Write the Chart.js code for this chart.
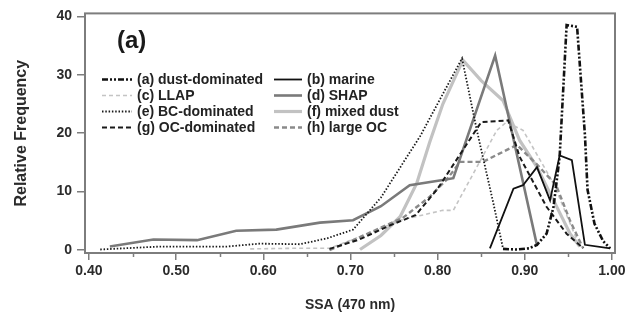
<!DOCTYPE html>
<html>
<head>
<meta charset="utf-8">
<script src="https://cdn.jsdelivr.net/npm/chart.js@4/dist/chart.umd.min.js"></script>
<style>
  html, body { margin: 0; padding: 0; background: #fff; }
  canvas { display: block; }
</style>
</head>
<body>
<canvas id="c" width="631" height="323"></canvas>
<script>
// ---- data (SSA at 470 nm vs relative frequency) ----
const dustSSA   = [0.875, 0.890, 0.905, 0.914, 0.925, 0.933, 0.940, 0.945, 0.948, 0.960, 0.964, 0.969, 0.972, 0.980, 0.990, 0.998];
const dustFreq  = [0.2, 0.1, 0.3, 0.9, 2.8, 7.4, 16, 30, 38.5, 38.2, 30, 19.7, 10.3, 4.5, 1.5, 0.3];

const marineSSA  = [0.860, 0.887, 0.898, 0.914, 0.929, 0.940, 0.954, 0.969, 0.998];
const marineFreq = [0.3, 10.5, 11.1, 14.2, 8.5, 16.2, 15.4, 0.9, 0.3];

const llapSSA  = [0.585, 0.630, 0.676, 0.720, 0.757, 0.806, 0.818, 0.845, 0.868, 0.879, 0.898, 0.933, 0.963];
const llapFreq = [0.2, 0.3, 0.3, 2.8, 5.1, 6.8, 6.8, 14.2, 20.5, 21.9, 20.5, 11.4, 0.6];

const shapSSA  = [0.424, 0.474, 0.524, 0.569, 0.615, 0.665, 0.703, 0.735, 0.768, 0.806, 0.818, 0.866, 0.890, 0.914];
const shapFreq = [0.6, 1.8, 1.7, 3.3, 3.5, 4.7, 5.1, 7.5, 11.1, 12, 12.3, 33.3, 17, 0.8];

const bcSSA  = [0.413, 0.481, 0.558, 0.596, 0.642, 0.673, 0.703, 0.735, 0.780, 0.828, 0.845, 0.864, 0.875];
const bcFreq = [0.1, 0.6, 0.6, 1.1, 1.0, 2.0, 3.5, 9.0, 19.5, 32.8, 20.5, 8.0, 0.3];

const mixedSSA  = [0.711, 0.735, 0.757, 0.776, 0.791, 0.806, 0.829, 0.850, 0.875, 0.894, 0.914, 0.933, 0.952, 0.963];
const mixedFreq = [0.1, 2.5, 5.7, 11.4, 18.5, 25, 32.5, 29, 25.6, 18.8, 14.2, 8.5, 2.8, 0.6];

const ocSSA  = [0.676, 0.710, 0.745, 0.775, 0.800, 0.850, 0.881, 0.894, 0.925, 0.948, 0.967];
const ocFreq = [0.2, 1.8, 4.2, 6.0, 10.5, 21.9, 22.2, 16, 7.4, 2.8, 0.3];

const largeSSA  = [0.676, 0.700, 0.730, 0.760, 0.790, 0.810, 0.826, 0.852, 0.891, 0.915, 0.936, 0.952, 0.967];
const largeFreq = [0.0, 1.5, 3.5, 5.5, 9.0, 12, 15.1, 15.1, 18, 14.5, 11.1, 5.0, 0.3];

const seriesLabels = ['(a) dust-dominated', '(b) marine', '(c) LLAP', '(d) SHAP',
                      '(e) BC-dominated', '(f) mixed dust', '(g) OC-dominated', '(h) large OC'];
const xTickValues = [0.40, 0.50, 0.60, 0.70, 0.80, 0.90, 1.00];
const xMinorTicks = [0.45, 0.55, 0.65, 0.75, 0.85, 0.95];
const yTickValues = [0, 10, 20, 30, 40];
const panelLabel = '(a)';

function pts(xs, ys) { return xs.map((x, i) => ({ x: x, y: ys[i] })); }

const styles = [
  { color: '#111111', width: 2.6, dash: [6, 2, 2, 2, 2, 2] },
  { color: '#111111', width: 1.8, dash: [] },
  { color: '#c4c4c4', width: 1.6, dash: [4, 3] },
  { color: '#7a7a7a', width: 2.6, dash: [] },
  { color: '#1a1a1a', width: 1.8, dash: [1.5, 1.8] },
  { color: '#c2c2c2', width: 3.2, dash: [] },
  { color: '#1a1a1a', width: 2.0, dash: [5, 3] },
  { color: '#8a8a8a', width: 2.4, dash: [5, 3] }
];
const seriesData = [
  pts(dustSSA, dustFreq), pts(marineSSA, marineFreq), pts(llapSSA, llapFreq), pts(shapSSA, shapFreq),
  pts(bcSSA, bcFreq), pts(mixedSSA, mixedFreq), pts(ocSSA, ocFreq), pts(largeSSA, largeFreq)
];
// draw order: light lines underneath
const drawOrder = [5, 2, 7, 3, 6, 4, 1, 0];

const datasets = seriesData.map((d, i) => ({
  label: seriesLabels[i],
  data: d,
  showLine: true,
  borderColor: styles[i].color,
  backgroundColor: styles[i].color,
  borderWidth: styles[i].width,
  borderDash: styles[i].dash,
  pointRadius: 0,
  tension: 0,
  fill: false,
  order: drawOrder.length - drawOrder.indexOf(i)
}));

const TXT = '#2b2b2b';
const FRAME = '#7d7d7d';

const framePlugin = {
  id: 'frame',
  afterDraw(chart) {
    const ctx = chart.ctx, a = chart.chartArea, xs = chart.scales.x;
    ctx.save();
    ctx.strokeStyle = FRAME;
    ctx.lineWidth = 2;
    ctx.strokeRect(a.left, a.top, a.right - a.left, a.bottom - a.top);
    // minor ticks on x axis
    ctx.lineWidth = 1.5;
    xMinorTicks.forEach(v => {
      const px = Math.round(xs.getPixelForValue(v)) + 0.5;
      ctx.beginPath();
      ctx.moveTo(px, a.bottom);
      ctx.lineTo(px, a.bottom + 4);
      ctx.stroke();
    });
    // panel label
    ctx.fillStyle = '#1a1a1a';
    ctx.font = 'bold 24px "Liberation Sans", Arial, sans-serif';
    ctx.textBaseline = 'middle';
    ctx.textAlign = 'left';
    ctx.fillText(panelLabel, 117, 41);
    // legend (two columns, four rows)
    const rowsY = [79, 95, 111, 127];
    const cols = [{ x0: 102, x1: 132, tx: 137 }, { x0: 274, x1: 302, tx: 307 }];
    ctx.font = 'bold 14px "Liberation Sans", Arial, sans-serif';
    chart.data.datasets.forEach((ds, i) => {
      const c = cols[i % 2], y = rowsY[Math.floor(i / 2)];
      ctx.save();
      ctx.strokeStyle = ds.borderColor;
      ctx.lineWidth = ds.borderWidth;
      ctx.setLineDash(ds.borderDash);
      ctx.beginPath();
      ctx.moveTo(c.x0, y + 0.5);
      ctx.lineTo(c.x1, y + 0.5);
      ctx.stroke();
      ctx.restore();
      ctx.fillStyle = '#222';
      ctx.fillText(ds.label, c.tx, y + 1);
    });
    ctx.restore();
  }
};

const bgPlugin = {
  id: 'bg',
  beforeDraw(chart) {
    const ctx = chart.ctx;
    ctx.save();
    ctx.fillStyle = '#fff';
    ctx.fillRect(0, 0, chart.width, chart.height);
    ctx.restore();
  }
};

const tickFont = { family: '"Liberation Sans", Arial, sans-serif', size: 14, weight: 'bold' };
const xTitleFont = { family: '"Liberation Sans", Arial, sans-serif', size: 14, weight: 'bold' };
const yTitleFont = { family: '"Liberation Sans", Arial, sans-serif', size: 16, weight: 'bold' };

new Chart(document.getElementById('c'), {
  type: 'scatter',
  data: { datasets: datasets },
  plugins: [bgPlugin, framePlugin],
  options: {
    responsive: false,
    animation: false,
    devicePixelRatio: 1,
    layout: { padding: { top: 13, right: 16, left: 0, bottom: 0 } },
    plugins: { legend: { display: false }, tooltip: { enabled: false } },
    scales: {
      x: {
        type: 'linear',
        min: 0.3955,
        max: 1.0035,
        afterBuildTicks: s => { s.ticks = xTickValues.map(v => ({ value: v })); },
        afterFit: s => { s.height = 70; },
        ticks: {
          color: TXT, font: tickFont, padding: 3, maxRotation: 0, autoSkip: false,
          callback: v => Number(v).toFixed(2)
        },
        grid: { drawOnChartArea: false, drawTicks: true, tickLength: 7, color: FRAME, lineWidth: 1.5 },
        border: { display: false },
        title: { display: true, text: 'SSA (470 nm)', color: TXT, font: xTitleFont, padding: { top: 9, bottom: 9 } }
      },
      y: {
        min: -0.5,
        max: 40.5,
        afterBuildTicks: s => { s.ticks = yTickValues.map(v => ({ value: v })); },
        afterFit: s => { s.width = 85; },
        ticks: { color: TXT, font: tickFont, padding: 5, autoSkip: false },
        grid: { drawOnChartArea: false, drawTicks: true, tickLength: 8, color: FRAME, lineWidth: 1.5 },
        border: { display: false },
        title: { display: true, text: 'Relative Frequency', color: TXT, font: yTitleFont, padding: { top: 12, bottom: 12 } }
      }
    }
  }
});
</script>
</body>
</html>
